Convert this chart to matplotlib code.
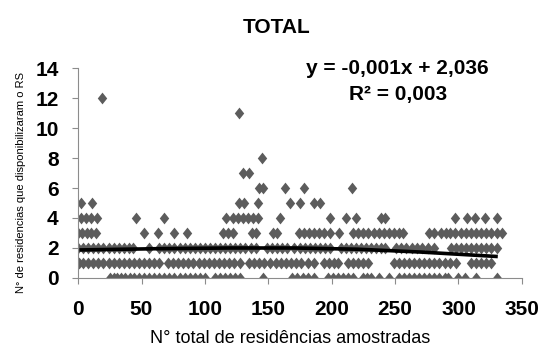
import matplotlib
matplotlib.use("Agg")
import matplotlib.pyplot as plt

# x positions of the points, grouped by their (integer) y value
x_y0 = [25, 28, 31, 34, 37, 41, 44, 48, 52, 56, 60, 64, 68, 72, 76, 80, 84, 88, 92, 96, 100,
        108, 112, 116, 120, 124, 128, 146, 169, 173, 177, 181, 186, 197, 201, 205, 209, 213, 217,
        225, 228, 231, 237, 245, 253, 257, 261, 265, 269, 273, 277, 281, 285, 289, 292,
        300, 305, 314, 330]
x_y1 = [1, 4, 8, 12, 16, 20, 24, 28, 32, 36, 40, 44, 48, 52, 56, 60, 64, 71, 75, 79, 83, 87,
        91, 95, 99, 103, 107, 111, 115, 119, 123, 128, 135, 139, 143, 147, 151, 156, 160, 164,
        168, 172, 176, 181, 186, 194, 198, 202, 205, 213, 217, 221, 225, 229, 249, 253, 257,
        261, 265, 269, 273, 277, 281, 285, 289, 293, 298, 310, 314, 318, 322, 326]
x_y2 = [0, 4, 8, 12, 16, 20, 24, 28, 32, 36, 40, 43, 56, 64, 68, 72, 76, 80, 84, 88, 92, 96,
        100, 104, 108, 112, 116, 120, 124, 128, 132, 136, 140, 149, 153, 157, 161, 165, 170,
        175, 179, 183, 187, 191, 195, 199, 207, 211, 215, 219, 223, 227, 231, 235, 239, 242,
        251, 255, 259, 263, 267, 271, 276, 281, 294, 298, 302, 306, 310, 314, 318, 322, 326, 330]
x_y3 = [0, 3, 7, 10, 14, 52, 63, 76, 86, 114, 118, 122, 137, 140, 154, 157, 174, 178, 182,
        186, 190, 194, 199, 206, 217, 221, 225, 229, 233, 237, 241, 245, 249, 253, 256, 277,
        281, 286, 290, 293, 297, 302, 306, 310, 314, 318, 322, 326, 330, 334]
x_y4 = [2, 6, 10, 15, 46, 68, 117, 122, 126, 130, 134, 138, 142, 159, 199, 211, 219, 239, 242,
        297, 307, 313, 321, 330]
x_y5 = [2, 11, 127, 131, 142, 167, 175, 186, 191]
x_y6 = [143, 146, 163, 178, 216]
x_y7 = [130, 135]
x_y8 = [145]
x_y11 = [127]
x_y12 = [19]

rows = [(0, x_y0), (1, x_y1), (2, x_y2), (3, x_y3), (4, x_y4), (5, x_y5), (6, x_y6),
        (7, x_y7), (8, x_y8), (11, x_y11), (12, x_y12)]

# trend line
trend_x = [1, 60, 120, 170, 220, 270, 331]
trend_y = [1.87, 1.95, 2.0, 2.0, 1.92, 1.73, 1.43]

font = ['Liberation Sans Narrow', 'Liberation Sans', 'DejaVu Sans']

fig = plt.figure(figsize=(5.54, 3.58), dpi=100)
ax = fig.add_axes([0.141, 0.2235, 0.801, 0.5865])

xs, ys = [], []
for yv, xl in rows:
    xs += xl
    ys += [yv] * len(xl)
# Excel-like diamond, a little taller than wide
diamond = [(0, 1), (0.8, 0), (0, -1), (-0.8, 0), (0, 1)]
ax.plot(xs, ys, linestyle='none', marker=diamond, markersize=8.5, color='#5c5c5c',
        markeredgewidth=0)
ax.plot(trend_x, trend_y, color='black', linewidth=2.6, solid_capstyle='butt')

ax.set_xlim(0, 350)
ax.set_ylim(0, 14)
ax.set_xticks(range(0, 351, 50))
ax.set_yticks(range(0, 15, 2))
for s in ['top', 'right']:
    ax.spines[s].set_visible(False)
for s in ['left', 'bottom']:
    ax.spines[s].set_color('#8c8c8c')
    ax.spines[s].set_linewidth(0.8)
ax.tick_params(axis='both', colors='#8c8c8c', length=4, width=0.8, labelcolor='black')
for lab in ax.get_xticklabels() + ax.get_yticklabels():
    lab.set_family(font)
    lab.set_fontsize(15)
    lab.set_fontweight('bold')
ax.tick_params(axis='y', pad=10)
ax.tick_params(axis='x', pad=12)

fig.text(0.5, 0.922, 'TOTAL', ha='center', va='center', fontsize=15, fontweight='bold',
         family=font)
fig.text(0.718, 0.81, 'y = -0,001x + 2,036', ha='center', va='center', fontsize=15,
         fontweight='bold', family=font)
fig.text(0.718, 0.735, 'R² = 0,003', ha='center', va='center', fontsize=15,
         fontweight='bold', family=font)
fig.text(0.523, 0.055, 'N° total de residências amostradas', ha='center', va='center',
         fontsize=13, family=font)
fig.text(0.038, 0.49, 'N° de residencias que disponibilizaram o RS', ha='center',
         va='center', rotation=90, fontsize=8, family=font)

fig.savefig('out.png', dpi=100)
